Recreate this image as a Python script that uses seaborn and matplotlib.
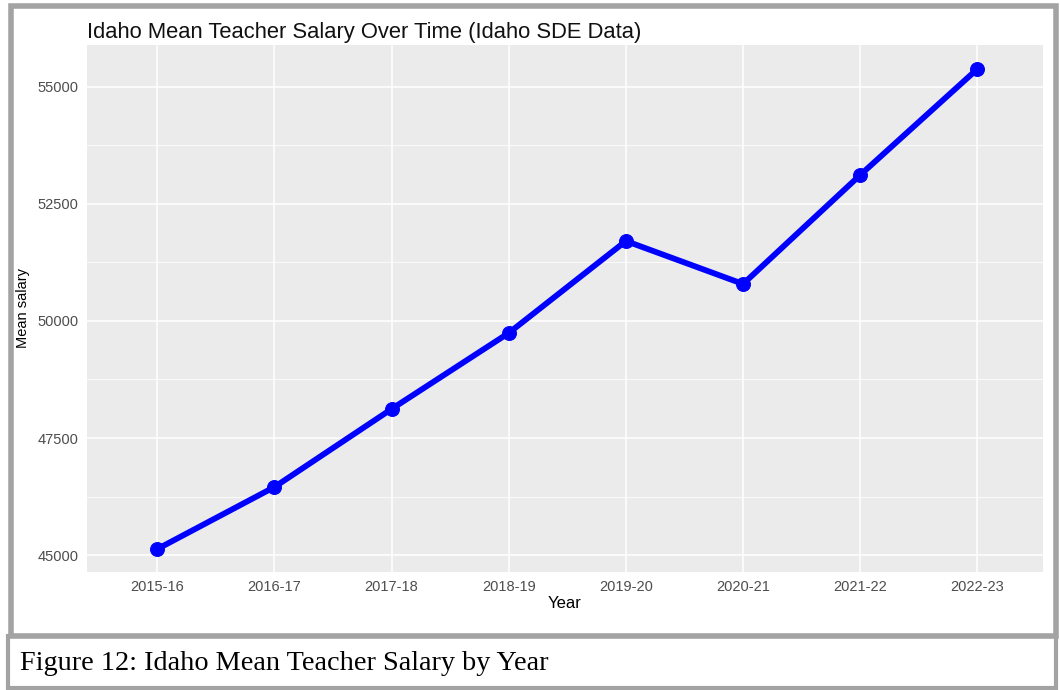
import matplotlib
matplotlib.use("Agg")
import matplotlib.pyplot as plt
from matplotlib.patches import Rectangle
from matplotlib.ticker import MultipleLocator
import pandas as pd
import seaborn as sns

# Data
years = ["2015-16", "2016-17", "2017-18", "2018-19",
         "2019-20", "2020-21", "2021-22", "2022-23"]
mean_salary = [45128, 46453, 48120, 49744, 51709, 50791, 53120, 55385]
y_ticks = [45000, 47500, 50000, 52500, 55000]

TITLE = "Idaho Mean Teacher Salary Over Time (Idaho SDE Data)"
CAPTION = "Figure 12: Idaho Mean Teacher Salary by Year"

PANEL = "#EBEBEB"
FRAME = "#A3A3A3"
TICK_TXT = "#4D4D4D"

sns.set_theme(style="darkgrid")
plt.rcParams["font.family"] = ["Liberation Sans", "DejaVu Sans"]

df = pd.DataFrame({"Year": years, "Mean salary": mean_salary})

W, H = 1060, 690
fig = plt.figure(figsize=(W / 100, H / 100), dpi=100)
fig.patch.set_facecolor("white")
ax = fig.add_axes([87 / W, 1 - 572 / H, (1043 - 87) / W, (572 - 45) / H])

sns.lineplot(data=df, x="Year", y="Mean salary", sort=False, ax=ax,
             color="#0000FF", lw=4.2, marker="o", markersize=10,
             markeredgecolor="#0000FF", markerfacecolor="#0000FF")

ax.set_facecolor(PANEL)
ax.set_xlim(-0.6, 7.56)
ax.set_ylim(44637, 55897)
ax.set_yticks(y_ticks)
ax.yaxis.set_minor_locator(MultipleLocator(1250))
ax.grid(True, which="major", color="white", lw=1.1)
ax.grid(True, which="minor", axis="y", color="white", lw=0.55)
ax.set_axisbelow(True)
for sp in ax.spines.values():
    sp.set_visible(False)
ax.tick_params(axis="both", which="major", length=3.5, width=1, color="#333333",
               labelsize=10.5, labelcolor=TICK_TXT, pad=2.5)
ax.tick_params(axis="both", which="minor", length=0)

ax.set_xlabel("Year", fontsize=12, color="black", labelpad=1)
ax.set_ylabel("Mean salary", fontsize=10.5, color="black",
              family=["Liberation Sans Narrow", "Liberation Sans", "DejaVu Sans"])
ax.yaxis.set_label_coords((30 - 87) / (1043 - 87), 0.5)
ax.set_title(TITLE, loc="left", fontsize=15.8, color="#111111", pad=5)

# gray frame around the plot and caption box
fig.add_artist(Rectangle((10.5 / W, 1 - 636 / H), (1055.5 - 10.5) / W, (636 - 5.5) / H,
                         transform=fig.transFigure, fill=False, ec=FRAME, lw=4))
fig.add_artist(Rectangle((7.5 / W, 1 - 688 / H), (1055.5 - 7.5) / W, (688 - 636) / H,
                         transform=fig.transFigure, fill=False, ec=FRAME, lw=3))
fig.text(20 / W, 1 - 663 / H, CAPTION, fontsize=20.3, color="black",
         family=["Liberation Serif", "DejaVu Serif"], va="center", ha="left")

fig.savefig("out.png", dpi=100, facecolor="white")
